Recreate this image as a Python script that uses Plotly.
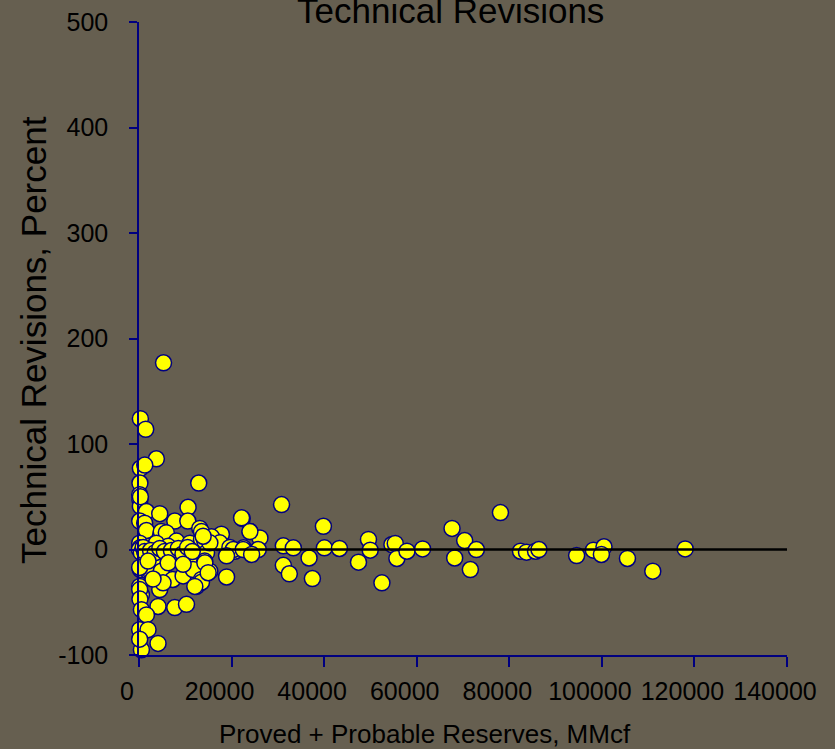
import plotly.graph_objects as go

# ---- data ----
reserves_mmcf = [
    5300, 300, 1450, 3750, 300, 1250, 200, 12900,
    150, 200, 300, 300, 1450, 1600, 4480, 10600, 30800, 7730, 10540, 13140,
    22300, 24000, 26130, 17800,
    150, 1230, 1600, 4630, 4800, 5900, 8100, 11000, 13500, 13500, 15670, 14200,
    17470, 19640, 20720, 22580, 25770, 31180, 33340,
    150, 200, 2320, 3750, 6300, 1600, 3030, 6300, 9170, 12060, 14590, 14200,
    20350, 22510, 18920, 24330, 15310, 13860, 22160, 23960,
    100, 500, 900, 1200, 2500, 3500, 4500, 5500, 7000, 8500, 9500, 10500, 11500,
    870, 300, 1950, 2680, 4800, 7300, 9530, 11690, 13500, 15300, 18920,
    31180, 32480, 150, 520, 4480, 12420, 13500, 5200, 3030, 150, 1950, 6300,
    9530, 14230, 14940, 12060, 4110, 150, 200, 520, 1600, 7730, 10260,
    150, 1950, 4110, 520, 150,
    36740, 37460, 39840, 40050, 43300, 47420, 49580, 49950, 52480, 54640,
    55360, 55720, 57890, 61270, 67630, 68200, 70360, 71590, 72890, 78090,
    82420, 83720, 85670, 86400, 94550, 98160, 100460, 99900, 105530, 111000,
    118000,
]
revisions_pct = [
    177, 124, 114, 86, 77, 80, 63, 63,
    52, 47, 41, 50, 35, 36, 34, 40, 42.6, 27, 27, 20,
    29.5, 17, 11, 14.5,
    27, 25, 18, 13, 17, 16, 8, 6, 9.5, 17, 12, 8,
    6.3, 2, -1.6, 1.6, 0, 3.5, 1.6,
    6, 1.6, 3, 6, 3, -6, -9.5, -9.5, -8, -9.5, -3, -11,
    0, 0, -6, -4.7, 6.3, 12.6, 30, 17,
    0, -3, 2, -2, -1, -3, 1, -2, -1, 1, -4, 2, -2,
    -19, -19, -20.5, -22, -20.5, -28.4, -25, -19, -28.4, -20.5, -26,
    -15, -23, -35, -43, -38, -35, -31, -31.6, -28, -17, -11, -12.6,
    -14, -12.6, -22, -35, -54, -38, -47, -57, -62, -55, -52,
    -76, -76, -89, -95, -85,
    -8, -27.5, 22, 1.6, 1, -12, 9.5, -0.6, -31.6, 4.7,
    5.7, -8.5, -1.6, 0.6, 20, -8, 8.5, -19, 0, 35,
    -1.6, -2.5, -1.6, 0, -5.7, -0.6, 2.6, -4.7, -8.5, -20.5,
    0.6,
]
x_range = [0, 140000]
y_range = [-100, 500.05]
x_tick_vals = [0, 20000, 40000, 60000, 80000, 100000, 120000, 140000]
x_tick_text = ["0", "20000", "40000", "60000", "80000", "100000", "120000", "140000"]
y_tick_vals = [-100, 0, 100, 200, 300, 400, 500]
y_tick_text = ["-100", "0", "100", "200", "300", "400", "500"]

title_text = "Technical Revisions"
x_title = "Proved + Probable Reserves, MMcf"
y_title = "Technical Revisions, Percent"

bg = "#665F50"
navy = "#000080"
regular = "Liberation Sans, Arial"

fig = go.Figure()
fig.add_trace(go.Scatter(
    x=reserves_mmcf, y=revisions_pct, mode="markers",
    marker=dict(symbol="circle", size=16, color="#FFFF00",
                line=dict(color=navy, width=1.5)),
    cliponaxis=False, showlegend=False, hoverinfo="x+y",
))

fig.add_shape(type="line", xref="x", yref="y",
              x0=x_range[0], x1=x_range[1], y0=0, y1=0,
              line=dict(color="black", width=2.5), layer="above")

fig.update_layout(
    width=835, height=749,
    paper_bgcolor=bg, plot_bgcolor=bg,
    margin=dict(l=139, r=48, t=22, b=94, autoexpand=False),
    showlegend=False,
    font=dict(family=regular, color="black"),
    annotations=[
        dict(text=title_text, xref="paper", yref="paper", x=0.48, y=1.0174,
             xanchor="center", yanchor="middle", showarrow=False,
             font=dict(family=regular, size=35, color="black")),
        dict(text=x_title, xref="paper", yref="paper", x=0.4414, y=-0.1248,
             xanchor="center", yanchor="middle", showarrow=False,
             font=dict(family=regular, size=26, color="black")),
        dict(text=y_title, xref="paper", yref="paper", x=-0.1636, y=0.4976,
             xanchor="center", yanchor="middle", showarrow=False, textangle=-90,
             font=dict(family=regular, size=35, color="black")),
    ],
)
fig.update_xaxes(
    range=x_range, tickmode="array", tickvals=x_tick_vals, ticktext=x_tick_text,
    automargin=False,
    showgrid=False, zeroline=False, showline=True, linecolor=navy, linewidth=1.5,
    ticks="outside", ticklen=10, tickcolor=navy, tickwidth=1.5,
    tickfont=dict(family=regular, size=25, color="black"),
    ticklabelstandoff=3, ticklabelshift=-12,
)
fig.update_yaxes(
    range=y_range, tickmode="array", tickvals=y_tick_vals, ticktext=y_tick_text,
    automargin=False,
    showgrid=False, zeroline=False, showline=True, linecolor=navy, linewidth=1.5,
    ticks="outside", ticklen=8, tickcolor=navy, tickwidth=1.5,
    tickfont=dict(family=regular, size=25, color="black"),
    ticklabelstandoff=16,
)

fig.write_html(
    "out.html",
    config={"displayModeBar": False},
    post_script="document.body.style.margin='0';document.body.style.background='#665F50';",
)
